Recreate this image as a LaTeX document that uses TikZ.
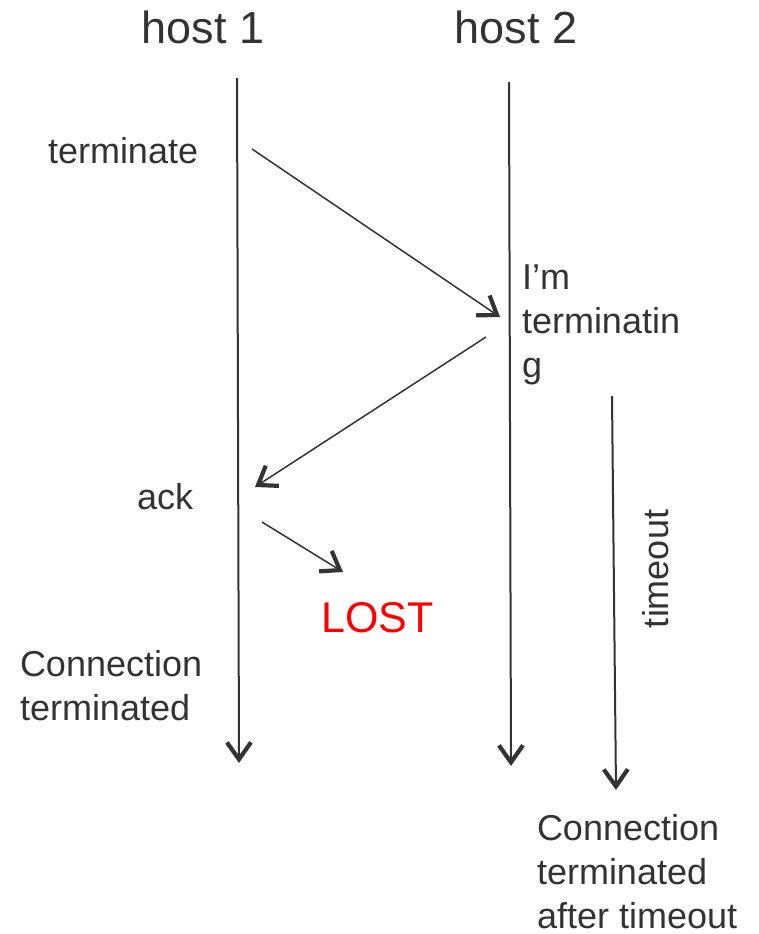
\documentclass[tikz,border=0pt]{standalone}
\usepackage{fontspec}
\setmainfont{Liberation Sans}
\usetikzlibrary{arrows.meta}
\definecolor{ink}{HTML}{333333}
\definecolor{lostred}{HTML}{FF0000}
\begin{document}
\begin{tikzpicture}[x=1pt,y=-1pt,
  label/.style={inner sep=0pt,outer sep=0pt,text=ink,align=left,
    font=\fontsize{36}{44}\selectfont},
  title/.style={inner sep=0pt,outer sep=0pt,text=ink,
    font=\fontsize{45}{50}\selectfont},
  barb/.style={-{Straight Barb[length=17pt,width=24pt,line width'=4.2pt]}},
  lifeline/.style={barb,draw=ink,line width=2pt},
  msg/.style={barb,draw=ink,line width=1.5pt}]
\useasboundingbox (0,0) rectangle (758,934);

% host titles
\node[title,anchor=base] (t1) at (203,44) {host 1};
\node[title,anchor=base] (t2) at (516,44) {host 2};

% lifelines
\coordinate (h1top) at (237,78);
\coordinate (h1end) at (239,763);
\coordinate (h2top) at (509,82);
\coordinate (h2end) at (511,766);
\coordinate (totop) at (612,396);
\coordinate (toend) at (616,790);
\draw[lifeline] (h1top) -- (h1end);
\draw[lifeline] (h2top) -- (h2end);
\draw[lifeline] (totop) -- (toend);

% messages
\coordinate (m1a) at (252,149);
\coordinate (m1b) at (500,317);
\coordinate (m2a) at (486,337);
\coordinate (m2b) at (255,487);
\coordinate (m3a) at (262,522);
\coordinate (m3b) at (343,572);
\draw[msg] (m1a) -- (m1b);
\draw[msg] (m2a) -- (m2b);
\draw[msg] (m3a) -- (m3b);

% labels (multi-line nodes are anchored on the baseline of their last line)
\node[label,anchor=base west] (term) at (48,163) {terminate};
\node[label,anchor=base west] (imterm) at (522,377) {I’m\\terminatin\\g};
\node[label,anchor=base west] (ack) at (137,509) {ack};
\node[inner sep=0pt,text=lostred,anchor=base west,
  font=\fontsize{43}{50}\selectfont] (lost) at (321,632) {LOST};
\node[label,anchor=base west] (conn1) at (20,720) {Connection\\terminated};
\node[label,anchor=base west,rotate=90] (tout) at (668,628) {timeout};
\node[label,anchor=base west] (conn2) at (537,928) {Connection\\terminated\\after timeout};
\end{tikzpicture}
\end{document}
